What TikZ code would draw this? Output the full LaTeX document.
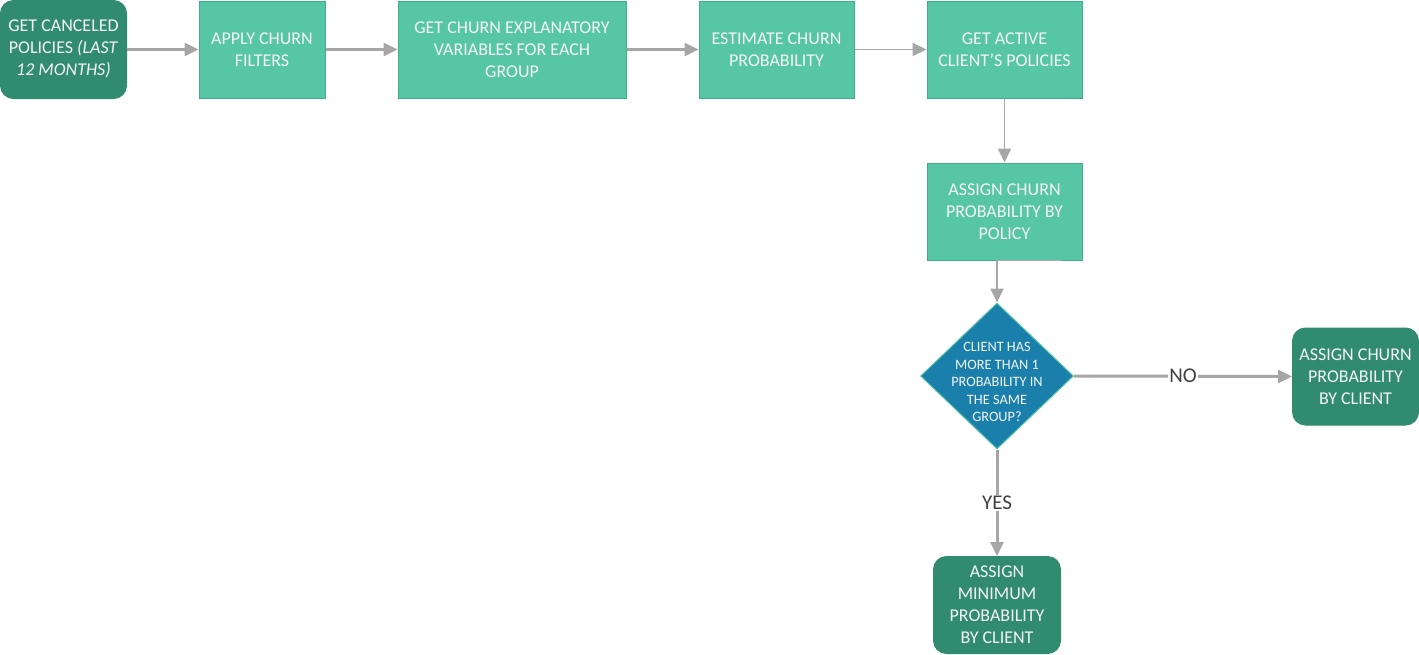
\documentclass[tikz,border=0pt]{standalone}
\usepackage{fontspec}
\setmainfont{Carlito}
\usetikzlibrary{shapes.geometric,arrows.meta}
\definecolor{boxfill}{HTML}{57C6A5}
\definecolor{boxline}{HTML}{3FAE8C}
\definecolor{darkfill}{HTML}{318B6F}
\definecolor{diafill}{HTML}{1A80AB}
\definecolor{arrowgray}{HTML}{A6A6A6}
\definecolor{labelgray}{HTML}{404040}
\definecolor{txt}{HTML}{F4F4F4}
\tikzset{
  lightbox/.style={rectangle, draw=boxline, fill=boxfill, text=txt, line width=1pt,
    font=\fontsize{18}{22}\selectfont, align=center, inner sep=0pt},
  darkbox/.style={rectangle, rounded corners=13pt, draw=darkfill, fill=darkfill, text=txt,
    line width=1pt, font=\fontsize{18}{22}\selectfont, align=center, inner sep=0pt},
  decision/.style={diamond, draw=boxfill, fill=diafill, line width=1pt, inner sep=0pt,
    minimum width=153pt, minimum height=146pt},
  dectext/.style={text=txt, font=\fontsize{14.3}{17.5}\selectfont, align=center, inner sep=0pt},
  conn/.style={draw=arrowgray, line width=3pt, -{Triangle[length=14pt,width=13pt]}},
  thinconn/.style={draw=arrowgray, line width=1.8pt, -{Triangle[length=14pt,width=13pt]}},
  edgelabel/.style={fill=white, text=labelgray, font=\fontsize{21}{24}\selectfont, inner sep=1pt}
}
\begin{document}
\begin{tikzpicture}[x=1pt,y=-1pt]
\useasboundingbox (0,0) rectangle (1419,654);
\node[darkbox, minimum width=126pt, minimum height=98pt] (n1) at (63.5,49.5)
  {\raisebox{-2.5pt}{\begin{tabular}{@{}c@{}}GET CANCELED\\POLICIES \textit{(LAST}\\\textit{12 MONTHS)}\end{tabular}}};
\node[lightbox, minimum width=126pt, minimum height=97pt] (n2) at (262,49.5)
  {APPLY CHURN\\FILTERS};
\node[lightbox, minimum width=228pt, minimum height=97pt] (n3) at (512,49.5)
  {GET CHURN EXPLANATORY\\VARIABLES FOR EACH\\GROUP};
\node[lightbox, minimum width=155pt, minimum height=97pt] (n4) at (776.5,49.5)
  {ESTIMATE CHURN\\PROBABILITY};
\node[lightbox, minimum width=155pt, minimum height=97pt] (n5) at (1004.5,49.5)
  {GET ACTIVE\\CLIENT’S POLICIES};
\node[lightbox, minimum width=155pt, minimum height=97pt] (n6) at (1004.5,211.5)
  {ASSIGN CHURN\\PROBABILITY BY\\POLICY};
\node[decision] (dec) at (997,376) {};
\node[dectext] (dect) at ([yshift=-6pt]dec.center)
  {CLIENT HAS\\MORE THAN 1\\PROBABILITY IN\\THE SAME\\GROUP?};
\node[darkbox, minimum width=126pt, minimum height=97pt] (n8) at (1355.5,376.5)
  {ASSIGN CHURN\\PROBABILITY\\BY CLIENT};
\node[darkbox, minimum width=127pt, minimum height=97pt] (n9) at (997,605)
  {ASSIGN\\MINIMUM\\PROBABILITY\\BY CLIENT};
\draw[conn] (n1.east) -- (n2.west);
\draw[conn] (n2.east) -- (n3.west);
\draw[conn] (n3.east) -- (n4.west);
\draw[thinconn] (n4.east) -- (n5.west);
\draw[thinconn] (n5.south) -- (n6.north);
\coordinate (c6) at ([xshift=57pt]n6.south);
\draw[thinconn] (c6) -- (n6.south -| dec.north) -- (dec.north);
\draw[conn] (dec.east) -- node[edgelabel] (lno) {NO} (n8.west);
\draw[conn] (dec.south) -- node[edgelabel, pos=0.5] (lyes) {YES} (n9.north);
\end{tikzpicture}
\end{document}
